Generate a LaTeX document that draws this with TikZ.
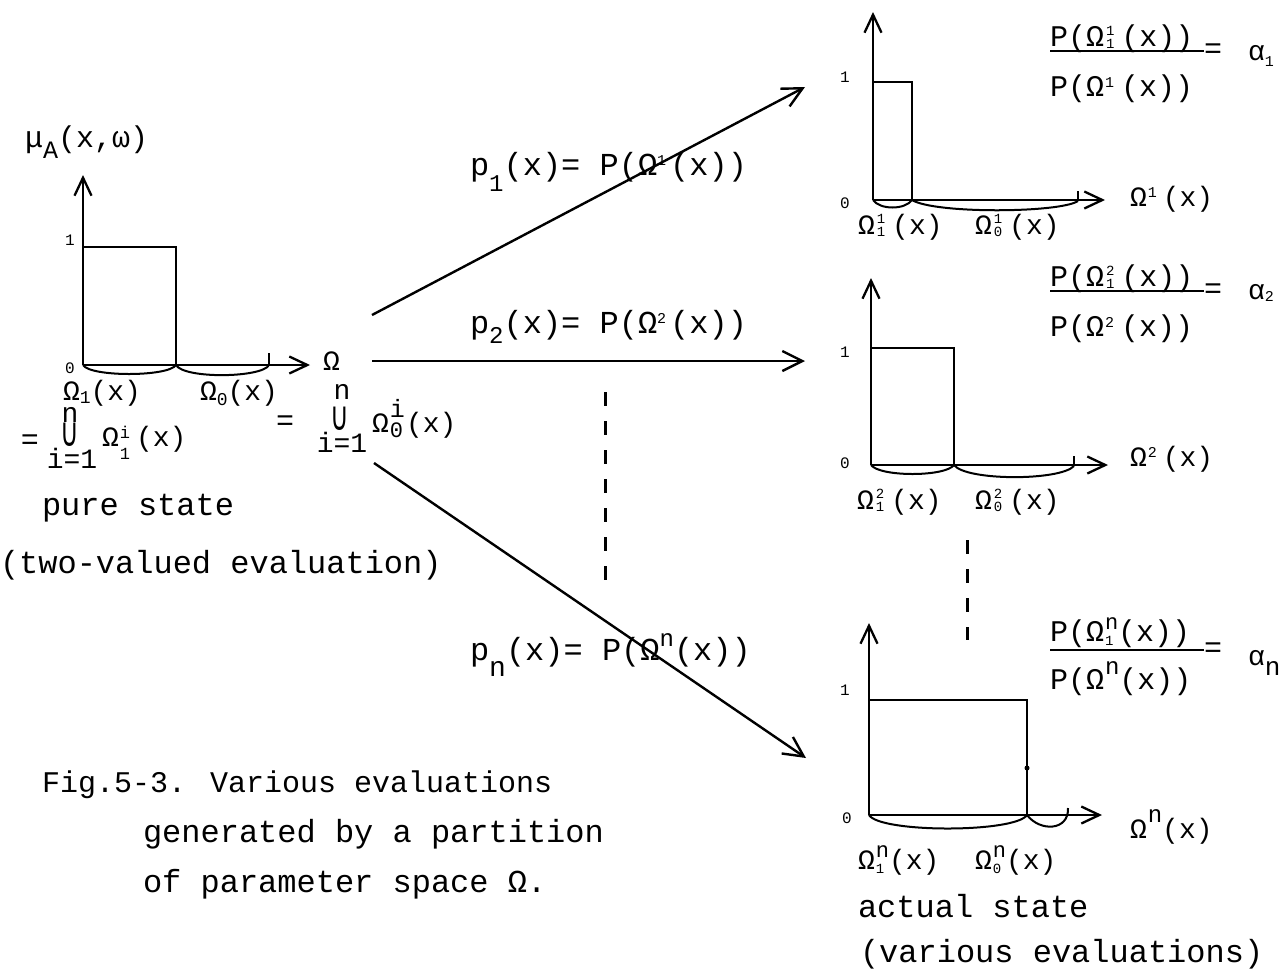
\documentclass[tikz,border=0pt]{standalone}
\usepackage{graphicx}
\usepackage{fontspec}
\setmainfont{Liberation Mono}
\newfontfamily\symfnt{DejaVu Sans}
\usetikzlibrary{arrows.meta}
\newcommand{\fsz}[1]{\fontsize{#1}{#1}\selectfont}
% raised / lowered scripts: [size]{raise}{text}
\newcommand{\Rs}[3][15]{\raisebox{#2}{\fsz{#1}#3}}
% tight stack of small sup and sub
\newcommand{\ST}[2]{\kern2pt\makebox[0pt][l]{\Rs[14]{11pt}{#1}}\Rs[14]{-2pt}{#2}}
% big n over small sub
\newcommand{\SN}[2]{\kern1pt\makebox[0pt][l]{\Rs[14]{-4pt}{#2}}\Rs[22]{12pt}{#1}}
\newcommand{\Ucup}{{\symfnt\scalebox{0.85}[1.35]{\fsz{30}∪}}}
\begin{document}
\begin{tikzpicture}[x=1pt,y=-1pt,
  every node/.style={inner sep=0pt,outer sep=0pt},
  big/.style={font=\fsz{32}, anchor=base west},
  lab/.style={font=\fsz{28}, anchor=base west},
  mid/.style={font=\fsz{30}, anchor=base west},
  ticklab/.style={font=\fsz{16}, anchor=center},
  axis/.style={line width=2.3pt, -{Straight Barb[length=18pt,width=17pt]}},
  box/.style={line width=2.3pt},
  brace/.style={line width=2pt},
  bigarrow/.style={line width=2.4pt, -{Straight Barb[length=20pt,width=20pt]}},
  dashline/.style={line width=3pt, dash pattern=on 14pt off 15pt},
]
\useasboundingbox (0,0) rectangle (1285,970);

%% ---------------- left plot ----------------
\coordinate (O0) at (83,365);
\coordinate (Y0) at (83,175);
\coordinate (X0) at (310,365);
\draw[axis] (O0) -- (Y0);
\draw[axis] (O0) -- (X0);
\draw[box] (83,247) -- (176,247) -- (176,365);
\draw[box] (269,365) -- (269,353);
\draw[brace] (O0) .. controls (90,377) and (168,377) .. (176,365);
\draw[brace] (176,365) .. controls (184,379) and (262,378) .. (269,365);
\node[ticklab] (l1) at (70,240) {1};
\node[ticklab] (l0) at (70,368) {0};
\node[mid] (muA) at (25,147) {μ\Rs[25]{-11pt}{A}(x,ω)};
\node[lab] (Om) at (323,370) {Ω};
\node[lab] (Om1) at (63,400) {Ω\Rs[18]{-3pt}{1}(x)};
\node[lab] (Om0) at (200,400) {Ω\Rs[18]{-5pt}{0}(x)};
\node[font=\fsz{30}] (eqA) at (30,442) {=};
\node[font=\fsz{28}] (nA) at (70,415) {n};
\node (cupA) at (70,435) {\Ucup};
\node[font=\fsz{28}] (iA) at (72,458) {i=1};
\node[lab] (unA) at (102,446) {Ω\kern1pt\makebox[0pt][l]{\Rs[17]{8pt}{i}}\Rs[17]{-13pt}{1}\kern6pt(x)};
\node[font=\fsz{30}] (eqB) at (285,423) {=};
\node[font=\fsz{28}] (nB) at (342,392) {n};
\node (cupB) at (340,419) {\Ucup};
\node[font=\fsz{28}] (iB) at (342,442) {i=1};
\node[lab] (unB) at (372,432) {Ω\kern1pt\makebox[0pt][l]{\Rs[25]{15pt}{i}}\Rs[22]{-5pt}{0}\kern3pt(x)};
\node[big] (pure) at (42,515) {pure state};
\node[big] (twov) at (0,573) {(two-valued evaluation)};

%% ---------------- caption ----------------
\node[mid] (cap1) at (42,792) {Fig.5-3. Various evaluations};
\node[big] (cap2) at (143,842) {generated by a partition};
\node[big] (cap3) at (143,892) {of parameter space Ω.};

%% ---------------- connectors ----------------
\coordinate (s1) at (372,315);
\coordinate (e1) at (805,87);
\coordinate (s2) at (372,361);
\coordinate (e2) at (805,361);
\coordinate (s3) at (374,463);
\coordinate (e3) at (806,758);
\draw[bigarrow] (s1) -- (e1);
\draw[bigarrow] (s2) -- (e2);
\draw[bigarrow] (s3) -- (e3);
\node[big] (p1) at (470,175) {p\Rs[24]{-16pt}{1}(x)= P(Ω\Rs{10pt}{1}\kern4pt(x))};
\node[big] (p2) at (470,333) {p\Rs[24]{-10pt}{2}(x)= P(Ω\Rs{10pt}{2}\kern4pt(x))};
\node[big] (pn) at (470,660) {p\Rs[28]{-16pt}{n}(x)= P(Ω\Rs[24]{14pt}{n}(x))};
\coordinate (d1a) at (605,392);
\coordinate (d1b) at (605,590);
\draw[dashline] (d1a) -- (d1b);
\coordinate (d2a) at (967,540);
\coordinate (d2b) at (967,640);
\draw[dashline] (d2a) -- (d2b);

%% ---------------- right plot 1 ----------------
\coordinate (O1) at (873,200);
\coordinate (Y1) at (873,12);
\coordinate (X1) at (1105,200);
\draw[axis] (O1) -- (Y1);
\draw[axis] (O1) -- (X1);
\draw[box] (873,82) -- (912,82) -- (912,200);
\draw[box] (1078,200) -- (1078,191);
\draw[brace] (O1) .. controls (880,210) and (905,210) .. (912,200);
\draw[brace] (912,200) .. controls (935,214) and (1060,213) .. (1078,201);
\node[ticklab] (r1a) at (845,77) {1};
\node[ticklab] (r1b) at (845,203) {0};
\node[lab] (r1x) at (1130,206) {Ω\kern1pt\Rs{9pt}{1}\kern6pt(x)};
\node[lab] (r1s1) at (858,234) {Ω\ST{1}{1}\kern7pt(x)};
\node[lab] (r1s0) at (975,234) {Ω\ST{1}{0}\kern7pt(x)};
\node[mid] (f1n) at (1050,46) {P(Ω\ST{1}{1}\kern7pt(x))};
\coordinate (f1l) at (1050,51);
\node[font=\fsz{30}, anchor=west] (f1eq) at (1204,51) {=};
\draw[line width=2pt] (f1l) -- (f1eq.west);
\node[mid] (f1d) at (1050,96) {P(Ω\kern1pt\Rs{9pt}{1}\kern7pt(x))};
\node[lab] (a1) at (1248,60) {α\Rs{-6pt}{1}};

%% ---------------- right plot 2 ----------------
\coordinate (O2) at (871,465);
\coordinate (Y2) at (871,278);
\coordinate (X2) at (1108,465);
\draw[axis] (O2) -- (Y2);
\draw[axis] (O2) -- (X2);
\draw[box] (871,348) -- (954,348) -- (954,465);
\draw[box] (1074,465) -- (1074,456);
\draw[brace] (O2) .. controls (880,477) and (945,477) .. (954,465);
\draw[brace] (954,465) .. controls (966,481) and (1060,481) .. (1074,466);
\node[ticklab] (r2a) at (845,352) {1};
\node[ticklab] (r2b) at (845,463) {0};
\node[lab] (r2x) at (1130,466) {Ω\kern1pt\Rs{9pt}{2}\kern6pt(x)};
\node[lab] (r2s1) at (857,509) {Ω\ST{2}{1}\kern7pt(x)};
\node[lab] (r2s0) at (975,509) {Ω\ST{2}{0}\kern7pt(x)};
\node[mid] (f2n) at (1050,286) {P(Ω\ST{2}{1}\kern7pt(x))};
\coordinate (f2l) at (1050,291);
\node[font=\fsz{30}, anchor=west] (f2eq) at (1204,291) {=};
\draw[line width=2pt] (f2l) -- (f2eq.west);
\node[mid] (f2d) at (1050,336) {P(Ω\kern1pt\Rs{9pt}{2}\kern7pt(x))};
\node[lab] (a2) at (1248,299) {α\Rs{-2pt}{2}};

%% ---------------- right plot n ----------------
\coordinate (O3) at (869,815);
\coordinate (Y3) at (869,623);
\coordinate (X3) at (1102,815);
\draw[axis] (O3) -- (Y3);
\draw[axis] (O3) -- (X3);
\draw[box] (869,700) -- (1027,700) -- (1027,815);
\fill (1027,768) circle (2.5pt);
\draw[brace] (O3) .. controls (880,833) and (1015,833) .. (1027,815);
\draw[brace] (1027,815) .. controls (1040,832) and (1069,831) .. (1068,808);
\node[ticklab] (r3a) at (845,690) {1};
\node[ticklab] (r3b) at (847,818) {0};
\node[lab] (r3x) at (1130,838) {Ω\kern1pt\Rs[24]{16pt}{n}(x)};
\node[lab] (r3s1) at (858,869) {Ω\SN{n}{1}(x)};
\node[lab] (r3s0) at (975,869) {Ω\SN{n}{0}(x)};
\node[mid] (f3n) at (1050,641) {P(Ω\SN{n}{1}(x))};
\coordinate (f3l) at (1050,650);
\node[font=\fsz{30}, anchor=west] (f3eq) at (1204,650) {=};
\draw[line width=2pt] (f3l) -- (f3eq.west);
\node[mid] (f3d) at (1050,689) {P(Ω\kern1pt\Rs[24]{15pt}{n}(x))};
\node[lab] (an) at (1248,665) {α\Rs[26]{-10pt}{n}};
\node[big] (act) at (858,917) {actual state};
\node[big] (var) at (860,962) {(various evaluations)};
\end{tikzpicture}
\end{document}
